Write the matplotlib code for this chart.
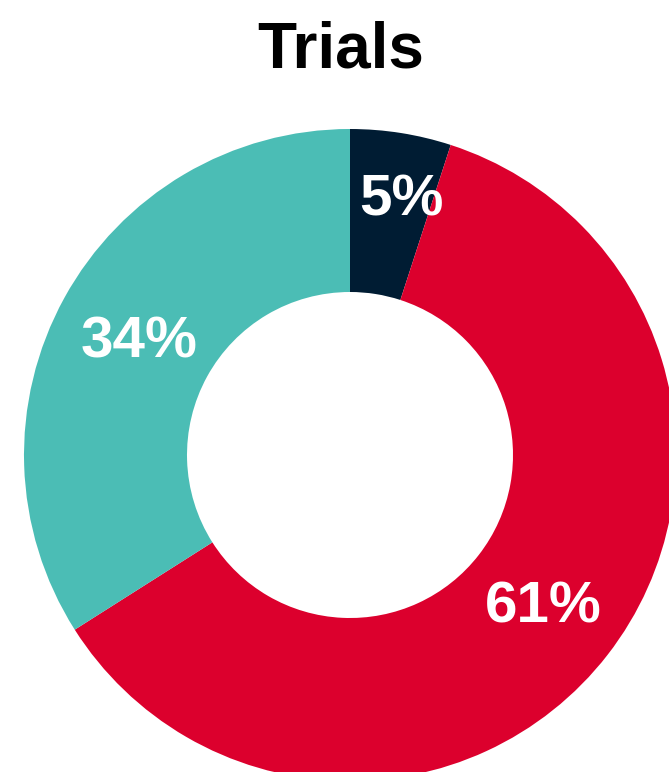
import numpy as np
import matplotlib
matplotlib.use("Agg")
import matplotlib.pyplot as plt

# share of trials per group, clockwise from 12 o'clock
categories = ['Group A', 'Group B', 'Group C']
shares = [5, 61, 34]
colors = ['#001c33', '#dc002d', '#4bbdb5']

# how far out each percentage sits (fraction of radius) and a small x nudge in px
label_radius = [0.80, 0.75, 0.737]
label_nudge = [11, 0, 0]

plt.rcParams['font.family'] = ['Liberation Sans', 'DejaVu Sans']

W, H = 669, 772
fig = plt.figure(figsize=(W / 100, H / 100), dpi=100)
ax = fig.add_axes([0, 0, 1, 1])

wedges, texts, autotexts = ax.pie(
    shares, colors=colors, startangle=90, counterclock=False,
    radius=1.0, wedgeprops=dict(width=0.5, linewidth=0),
    autopct=lambda p: f'{round(p):d}%', pctdistance=0.77,
    textprops=dict(color='white', fontsize=42, fontweight='bold'))

# donut centre sits at (350, 455) px with a radius of 326 px, clipped on the right/bottom
cx, cy, r = 350, 455, 326
ax.set_xlim(-cx / r, (W - cx) / r)
ax.set_ylim(-(H - cy) / r, cy / r)
ax.set_aspect('auto')
ax.axis('off')

for w, t, rad, dx in zip(wedges, autotexts, label_radius, label_nudge):
    mid = np.deg2rad((w.theta1 + w.theta2) / 2)
    t.set_position((rad * np.cos(mid) + dx / r, rad * np.sin(mid) - 3 / r))

fig.text(341 / W, 1 - 51 / H, 'Trials', ha='center', va='center',
         fontsize=46, fontweight='bold', color='black')

fig.savefig('out.png', dpi=100)
